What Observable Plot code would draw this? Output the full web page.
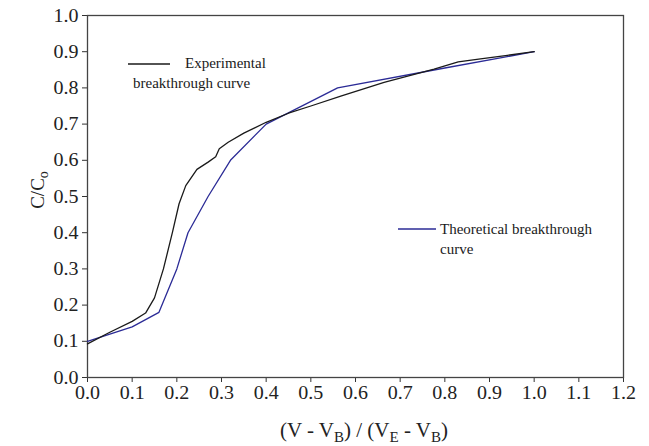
<!DOCTYPE html>
<html>
<head>
<meta charset="utf-8">
<script src="https://cdn.jsdelivr.net/npm/d3@7"></script>
<script src="https://cdn.jsdelivr.net/npm/@observablehq/plot@0.6"></script>
<style>
  html, body { margin: 0; padding: 0; background: #fff; }
  #chart svg { display: block; background: #fff; }
</style>
</head>
<body>
<div id="chart"></div>
<script>
// Experimental breakthrough curve (black)
const expX = [0, 0.05, 0.10, 0.13, 0.15, 0.17, 0.19, 0.205, 0.22, 0.245, 0.27, 0.287, 0.295, 0.315, 0.35, 0.40, 0.45, 0.50, 0.567, 0.664, 0.776, 0.83, 0.88, 0.94, 1.0];
const expY = [0.093, 0.125, 0.155, 0.178, 0.22, 0.30, 0.40, 0.48, 0.53, 0.575, 0.595, 0.61, 0.632, 0.65, 0.675, 0.705, 0.73, 0.75, 0.777, 0.815, 0.852, 0.872, 0.88, 0.89, 0.90];
// Theoretical breakthrough curve (blue)
const theoX = [0, 0.1, 0.16, 0.2, 0.225, 0.27, 0.32, 0.4, 0.56, 0.8, 1.0];
const theoY = [0.10, 0.14, 0.18, 0.30, 0.40, 0.50, 0.60, 0.70, 0.80, 0.855, 0.90];
// Tick values
const xTicks = [0, 0.1, 0.2, 0.3, 0.4, 0.5, 0.6, 0.7, 0.8, 0.9, 1.0, 1.1, 1.2];
const yTicks = [0, 0.1, 0.2, 0.3, 0.4, 0.5, 0.6, 0.7, 0.8, 0.9, 1.0];
const legendLabels = ["Experimental", "breakthrough curve", "Theoretical breakthrough", "curve"];

const expData = expX.map((x, i) => ({x, y: expY[i]}));
const theoData = theoX.map((x, i) => ({x, y: theoY[i]}));

const BLUE = "#2b2b96";
const BLACK = "#1a1a1a";
const FONT = "'Liberation Serif', 'Times New Roman', serif";

const plot = Plot.plot({
  width: 649,
  height: 446,
  marginLeft: 87,
  marginRight: 26,
  marginTop: 15,
  marginBottom: 69,
  x: {domain: [0, 1.2], label: null},
  y: {domain: [0, 1.0], label: null},
  marks: [
    Plot.axisX({ticks: xTicks, tickFormat: d3.format(".1f"), tickSize: 5, tickPadding: 3, label: null, stroke: "#333", fontSize: 19, fill: "#222"}),
    Plot.axisY({ticks: yTicks, tickFormat: d3.format(".1f"), tickSize: 5, tickPadding: 4, label: null, stroke: "#333", fontSize: 19, fill: "#222"}),
    Plot.frame({stroke: "#444", strokeWidth: 1.3}),
    Plot.line(theoData, {x: "x", y: "y", stroke: BLUE, strokeWidth: 1.3}),
    Plot.line(expData, {x: "x", y: "y", stroke: BLACK, strokeWidth: 1.3})
  ]
});
document.getElementById("chart").appendChild(plot);

const svg = d3.select(plot);
svg.style("font-family", FONT);
svg.selectAll('g[aria-label$="tick label"]').style("font-size", "19px").style("font-family", FONT);
svg.selectAll('g[aria-label$="tick label"] text')
  .attr("textLength", 25).attr("lengthAdjust", "spacingAndGlyphs");

// Y axis title with subscript
const yt = svg.append("text")
  .attr("transform", "translate(44,190) rotate(-90)")
  .attr("text-anchor", "middle")
  .style("font-family", FONT)
  .attr("font-size", 19).attr("fill", "#222");
yt.append("tspan").text("C/C");
yt.append("tspan").attr("font-size", 14).attr("dy", 4).text("o");

// X axis title with subscripts
const xt = svg.append("text")
  .attr("x", 364).attr("y", 437)
  .attr("text-anchor", "middle")
  .style("font-family", FONT)
  .attr("font-size", 21).attr("fill", "#222");
const sub = (s) => xt.append("tspan").attr("font-size", 15).attr("dy", 5).text(s);
const norm = (s) => xt.append("tspan").attr("font-size", 21).attr("dy", -5).text(s);
xt.append("tspan").text("(V - V");
sub("B");
norm(") / (V");
sub("E");
norm(" - V");
sub("B");
norm(")");

// Legend
const lg = svg.append("g").style("font-family", FONT).style("font-size", "15px").attr("fill", "#1a1a1a").attr("text-anchor", "start");
lg.append("line").attr("x1", 128).attr("x2", 170).attr("y1", 64).attr("y2", 64).attr("stroke", BLACK).attr("stroke-width", 1.3);
lg.append("text").attr("x", 185).attr("y", 68).text(legendLabels[0]);
lg.append("text").attr("x", 133).attr("y", 88).text(legendLabels[1]);
lg.append("line").attr("x1", 398).attr("x2", 436).attr("y1", 229).attr("y2", 229).attr("stroke", BLUE).attr("stroke-width", 1.3);
lg.append("text").attr("x", 440).attr("y", 234).text(legendLabels[2]);
lg.append("text").attr("x", 440).attr("y", 254).text(legendLabels[3]);
</script>
</body>
</html>
